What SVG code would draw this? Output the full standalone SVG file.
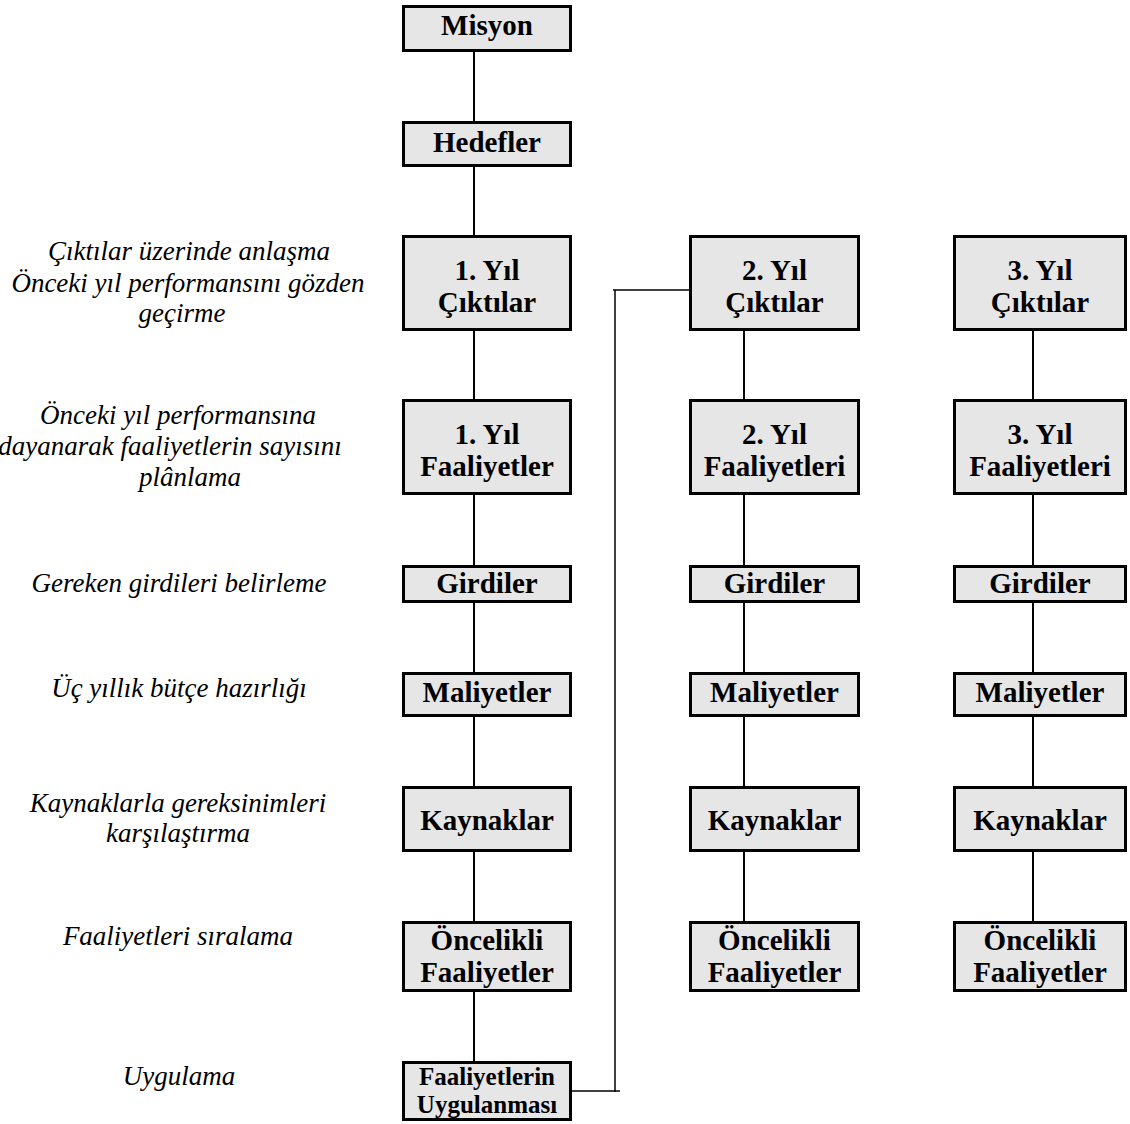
<svg xmlns="http://www.w3.org/2000/svg" width="1130" height="1124" viewBox="0 0 1130 1124">
<style>
.box{fill:#e6e6e6;stroke:#000;stroke-width:3}
.bt{font-family:"Liberation Serif","Times New Roman",serif;font-weight:bold;font-size:29px;text-anchor:middle;fill:#000}
.bs{font-size:25px}
.lt{font-family:"Liberation Serif","Times New Roman",serif;font-style:italic;font-size:27px;text-anchor:middle;fill:#000}
.c{stroke:#000;stroke-width:2;fill:none}
.ct{stroke:#000;stroke-width:1.5;fill:none}
</style>
<rect width="1130" height="1124" fill="#fff"/>
<g id="connectors">
<line class="c" x1="474" y1="52" x2="474" y2="121"/>
<line class="c" x1="474" y1="167" x2="474" y2="235"/>
<line class="c" x1="474" y1="331" x2="474" y2="399"/>
<line class="c" x1="474" y1="495" x2="474" y2="565"/>
<line class="c" x1="474" y1="603" x2="474" y2="672"/>
<line class="c" x1="474" y1="717" x2="474" y2="786"/>
<line class="c" x1="474" y1="852" x2="474" y2="921"/>
<line class="c" x1="474" y1="992" x2="474" y2="1061"/>
<line class="c" x1="744" y1="331" x2="744" y2="399"/>
<line class="c" x1="744" y1="495" x2="744" y2="565"/>
<line class="c" x1="744" y1="603" x2="744" y2="672"/>
<line class="c" x1="744" y1="717" x2="744" y2="786"/>
<line class="c" x1="744" y1="852" x2="744" y2="921"/>
<line class="c" x1="1033" y1="331" x2="1033" y2="399"/>
<line class="c" x1="1033" y1="495" x2="1033" y2="565"/>
<line class="c" x1="1033" y1="603" x2="1033" y2="672"/>
<line class="c" x1="1033" y1="717" x2="1033" y2="786"/>
<line class="c" x1="1033" y1="852" x2="1033" y2="921"/>
<line class="ct" x1="572" y1="1091" x2="620" y2="1091"/>
<line class="ct" x1="615" y1="290" x2="615" y2="1092"/>
<line class="ct" x1="613" y1="290" x2="689" y2="290"/>
</g>
<g id="misyon"><rect class="box" x="403.5" y="6.5" width="167" height="44"/><text class="bt" x="487" y="35">Misyon</text></g>
<g id="hedefler"><rect class="box" x="403.5" y="122.5" width="167" height="43"/><text class="bt" x="487" y="152">Hedefler</text></g>
<g id="y1-ciktilar"><rect class="box" x="403.5" y="236.5" width="167" height="93"/><text class="bt" x="487" y="280">1. Yıl</text><text class="bt" x="487" y="312">Çıktılar</text></g>
<g id="y1-faaliyetler"><rect class="box" x="403.5" y="400.5" width="167" height="93"/><text class="bt" x="487" y="444">1. Yıl</text><text class="bt" x="487" y="476">Faaliyetler</text></g>
<g id="y1-girdiler"><rect class="box" x="403.5" y="566.5" width="167" height="35"/><text class="bt" x="487" y="593">Girdiler</text></g>
<g id="y1-maliyetler"><rect class="box" x="403.5" y="673.5" width="167" height="42"/><text class="bt" x="487" y="702">Maliyetler</text></g>
<g id="y1-kaynaklar"><rect class="box" x="403.5" y="787.5" width="167" height="63"/><text class="bt" x="487" y="830">Kaynaklar</text></g>
<g id="y1-oncelikli"><rect class="box" x="403.5" y="922.5" width="167" height="68"/><text class="bt" x="487" y="950">Öncelikli</text><text class="bt" x="487" y="982">Faaliyetler</text></g>
<g id="uygulanmasi"><rect class="box" x="403.5" y="1062.5" width="167" height="57"/><text class="bt bs" x="487" y="1085">Faaliyetlerin</text><text class="bt bs" x="487" y="1113">Uygulanması</text></g>

<g id="y2-ciktilar"><rect class="box" x="690.5" y="236.5" width="168" height="93"/><text class="bt" x="774.5" y="280">2. Yıl</text><text class="bt" x="774.5" y="312">Çıktılar</text></g>
<g id="y2-faaliyetleri"><rect class="box" x="690.5" y="400.5" width="168" height="93"/><text class="bt" x="774.5" y="444">2. Yıl</text><text class="bt" x="774.5" y="476">Faaliyetleri</text></g>
<g id="y2-girdiler"><rect class="box" x="690.5" y="566.5" width="168" height="35"/><text class="bt" x="774.5" y="593">Girdiler</text></g>
<g id="y2-maliyetler"><rect class="box" x="690.5" y="673.5" width="168" height="42"/><text class="bt" x="774.5" y="702">Maliyetler</text></g>
<g id="y2-kaynaklar"><rect class="box" x="690.5" y="787.5" width="168" height="63"/><text class="bt" x="774.5" y="830">Kaynaklar</text></g>
<g id="y2-oncelikli"><rect class="box" x="690.5" y="922.5" width="168" height="68"/><text class="bt" x="774.5" y="950">Öncelikli</text><text class="bt" x="774.5" y="982">Faaliyetler</text></g>

<g id="y3-ciktilar"><rect class="box" x="954.5" y="236.5" width="171" height="93"/><text class="bt" x="1040" y="280">3. Yıl</text><text class="bt" x="1040" y="312">Çıktılar</text></g>
<g id="y3-faaliyetleri"><rect class="box" x="954.5" y="400.5" width="171" height="93"/><text class="bt" x="1040" y="444">3. Yıl</text><text class="bt" x="1040" y="476">Faaliyetleri</text></g>
<g id="y3-girdiler"><rect class="box" x="954.5" y="566.5" width="171" height="35"/><text class="bt" x="1040" y="593">Girdiler</text></g>
<g id="y3-maliyetler"><rect class="box" x="954.5" y="673.5" width="171" height="42"/><text class="bt" x="1040" y="702">Maliyetler</text></g>
<g id="y3-kaynaklar"><rect class="box" x="954.5" y="787.5" width="171" height="63"/><text class="bt" x="1040" y="830">Kaynaklar</text></g>
<g id="y3-oncelikli"><rect class="box" x="954.5" y="922.5" width="171" height="68"/><text class="bt" x="1040" y="950">Öncelikli</text><text class="bt" x="1040" y="982">Faaliyetler</text></g>

<g id="labels">
<text class="lt" x="189" y="260">Çıktılar üzerinde anlaşma</text>
<text class="lt" x="188" y="292">Önceki yıl performansını gözden</text>
<text class="lt" x="182" y="322">geçirme</text>
<text class="lt" x="178" y="424">Önceki yıl performansına</text>
<text class="lt" x="170" y="455">dayanarak faaliyetlerin sayısını</text>
<text class="lt" x="190" y="486">plânlama</text>
<text class="lt" x="179" y="592">Gereken girdileri belirleme</text>
<text class="lt" x="179" y="697">Üç yıllık bütçe hazırlığı</text>
<text class="lt" x="178" y="812">Kaynaklarla gereksinimleri</text>
<text class="lt" x="178" y="842">karşılaştırma</text>
<text class="lt" x="178" y="945">Faaliyetleri sıralama</text>
<text class="lt" x="179" y="1085">Uygulama</text>
</g>
</svg>
